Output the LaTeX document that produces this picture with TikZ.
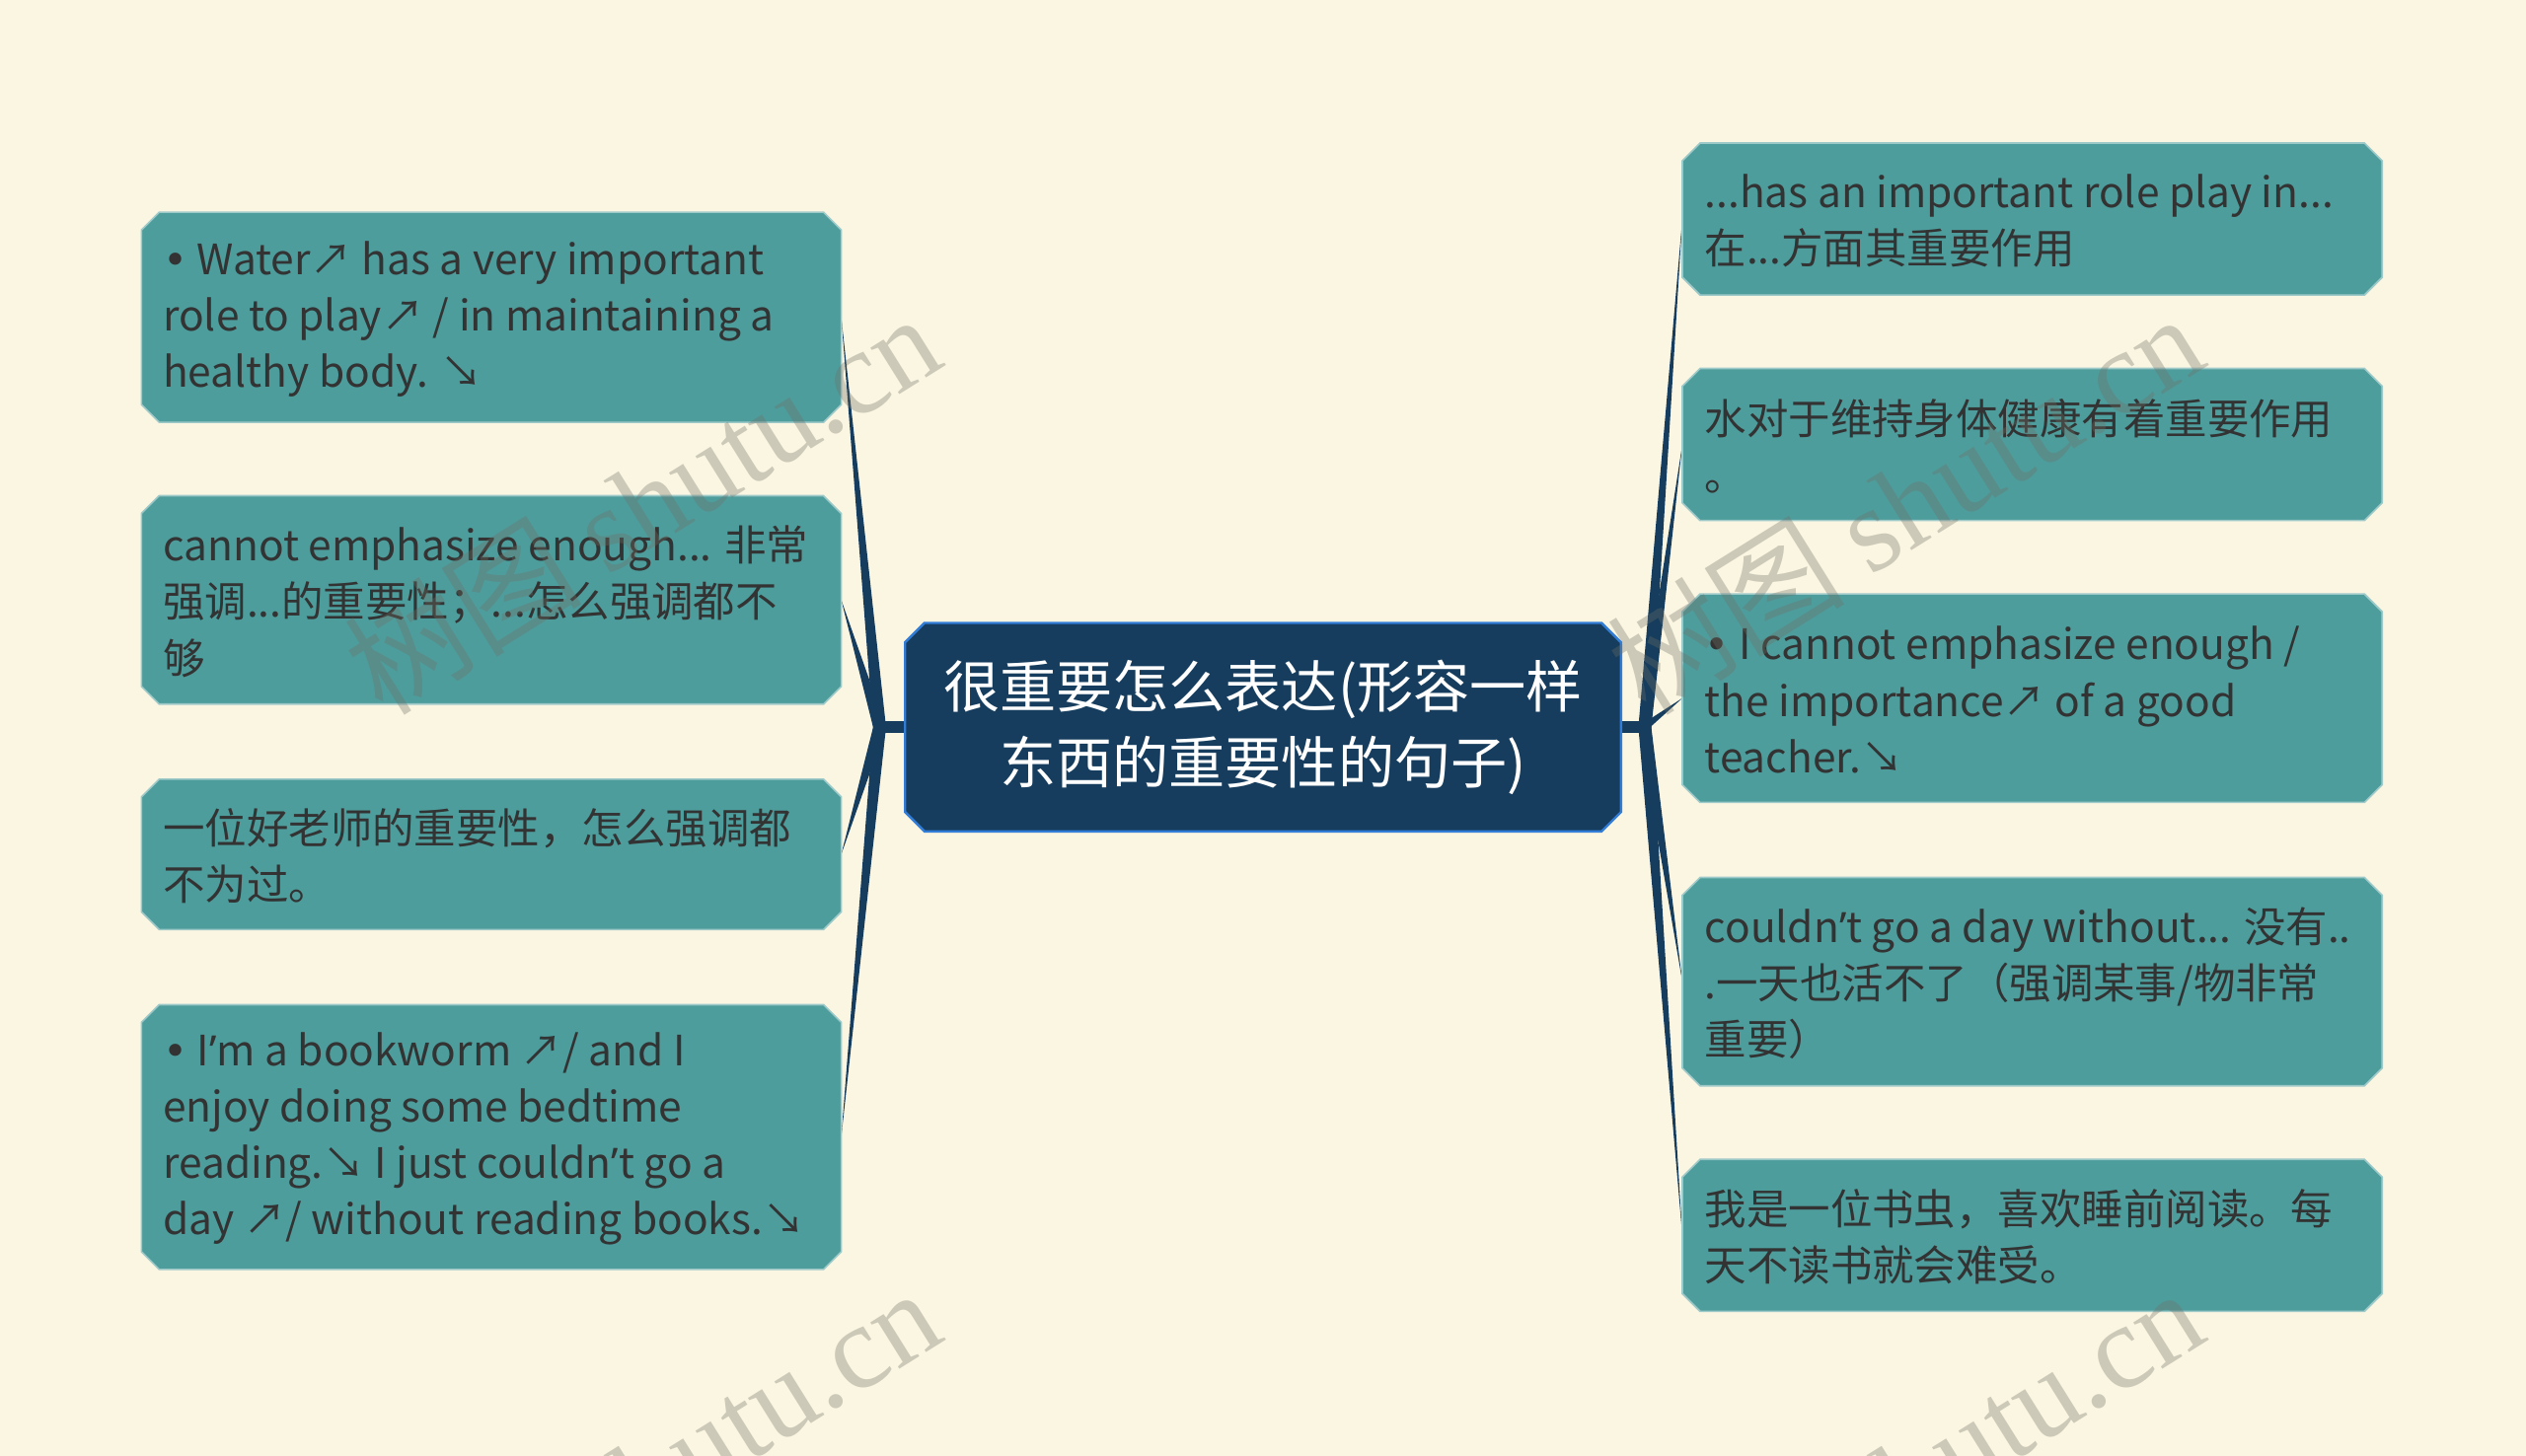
\documentclass[tikz,border=0pt]{standalone}
\usepackage{fontspec}
\setmainfont{Noto Sans CJK SC}
\newfontfamily\wmserif{Liberation Serif}
\newfontfamily\latinf{Noto Sans}
\newfontfamily\bulf{DejaVu Sans}
\newcommand\bul{{\bulf •}}
\newcommand\apo{{\latinf ’}}
\usetikzlibrary{calc}
\definecolor{bgc}{RGB}{251,246,226}
\definecolor{tealc}{RGB}{78,157,157}
\definecolor{navyc}{RGB}{22,61,94}
\definecolor{bluec}{RGB}{50,125,215}
\definecolor{txtc}{RGB}{51,51,51}
\definecolor{wmc}{RGB}{110,110,100}
\pgfdeclarelayer{bglayer}
\pgfdeclarelayer{shapelayer}
\pgfdeclarelayer{toplayer}
\pgfsetlayers{bglayer,shapelayer,main,toplayer}
\newcommand\octpath[2]{([xshift=#2]#1.north west) -- ([xshift=-#2]#1.north east) -- ([yshift=-#2]#1.north east) -- ([yshift=#2]#1.south east) -- ([xshift=-#2]#1.south east) -- ([xshift=#2]#1.south west) -- ([yshift=#2]#1.south west) -- ([yshift=-#2]#1.north west) -- cycle}
\begin{document}
\begin{tikzpicture}[x=1pt,y=-1pt,
  boxnode/.style={shape=rectangle, inner sep=0pt, minimum width=434pt},
  leaftext/.style={anchor=west, align=left, inner sep=0pt, yshift=-1pt, text=txtc, font=\fontsize{26}{35}\selectfont},
  leafshape/.style={fill=tealc, draw=tealc!55!white, line width=1pt},
  spike/.style={fill=navyc},
  wmark/.style={rotate=32, text=wmc, opacity=0.33, inner sep=0pt, font=\fontsize{74}{80}\selectfont}]
\begin{pgfonlayer}{bglayer}
\fill[bgc] (0,0) rectangle (1568,904);
\end{pgfonlayer}
\useasboundingbox (0,0) rectangle (1568,904);

% center
\node[shape=rectangle, minimum width=444pt, minimum height=129pt, inner sep=0pt, align=center, text=white, font=\fontsize{35}{47}\selectfont] (C) at (784,451.5) {很重要怎么表达(形容一样\\东西的重要性的句子)};

% left boxes
\node[boxnode, minimum height=130pt] (L1) at (305,197) {};
\node[boxnode, minimum height=129pt] (L2) at (305,372.5) {};
\node[boxnode, minimum height=93pt] (L3) at (305,530.5) {};
\node[boxnode, minimum height=164pt] (L4) at (305,706) {};
\node[leaftext] (L1t) at (101,197) {\bul{} Water↗ has a very important\\role to play↗ / in maintaining a\\healthy body. ↘};
\node[leaftext] (L2t) at (101,372.5) {cannot emphasize enough... 非常\\强调...的重要性；...怎么强调都不\\够};
\node[leaftext] (L3t) at (101,530.5) {一位好老师的重要性，怎么强调都\\不为过。};
\node[leaftext] (L4t) at (101,706) {\bul{} I\apo m a bookworm ↗/ and I\\enjoy doing some bedtime\\reading.↘ I just couldn\apo t go a\\day ↗/ without reading books.↘};

% right boxes
\node[boxnode, minimum height=94pt] (R1) at (1261.5,136) {};
\node[boxnode, minimum height=94pt] (R2) at (1261.5,276) {};
\node[boxnode, minimum height=129pt] (R3) at (1261.5,433.5) {};
\node[boxnode, minimum height=129pt] (R4) at (1261.5,609.5) {};
\node[boxnode, minimum height=94pt] (R5) at (1261.5,767) {};
\node[leaftext] (R1t) at (1058,136) {...has an important role play in...\\在...方面其重要作用};
\node[leaftext] (R2t) at (1058,276) {水对于维持身体健康有着重要作用\\。};
\node[leaftext] (R3t) at (1058,433.5) {\bul{} I cannot emphasize enough /\\the importance↗ of a good\\teacher.↘};
\node[leaftext] (R4t) at (1058,609.5) {couldn\apo t go a day without... 没有..\\.一天也活不了（强调某事/物非常\\重要）};
\node[leaftext] (R5t) at (1058,767) {我是一位书虫，喜欢睡前阅读。每\\天不读书就会难受。};

\coordinate (JL) at (546,451.5);
\coordinate (JR) at (1021,451.5);

\begin{pgfonlayer}{shapelayer}
% connectors
\fill[navyc] ($(C.west)+(0,-3.5)$) rectangle ($(JL)+(0,3.5)$);
\fill[navyc] ($(C.east)+(0,-3.5)$) rectangle ($(JR)+(0,3.5)$);
\foreach \n in {L1,L2,L3,L4}{
  \fill[spike] (\n.east) -- ($(JL)+(-4,0)$) -- ($(JL)+(4,0)$) -- cycle;
}
\foreach \n in {R1,R2,R4,R5}{
  \fill[spike] (\n.west) -- ($(JR)+(-4,0)$) -- ($(JR)+(4,0)$) -- cycle;
}
\fill[spike] (R3.west) -- ($(JR)+(0,-3)$) -- ($(JR)+(0,3)$) -- cycle;
% boxes
\foreach \n in {L1,L2,L3,L4,R1,R2,R3,R4,R5}{
  \filldraw[leafshape] \octpath{\n}{11pt};
}
\filldraw[fill=navyc, draw=bluec, line width=1.5pt] \octpath{C}{12pt};
\end{pgfonlayer}

\begin{pgfonlayer}{toplayer}
\begin{scope}
\clip (0,0) rectangle (1568,904);
\node[wmark] (W1) at (398,312) {树图 {\wmserif shutu.cn}};
\node[wmark] (W2) at (1182,312) {树图 {\wmserif shutu.cn}};
\node[wmark] (W3) at (398,917) {树图 {\wmserif shutu.cn}};
\node[wmark] (W4) at (1182,917) {树图 {\wmserif shutu.cn}};
\end{scope}
\end{pgfonlayer}
\end{tikzpicture}
\end{document}
